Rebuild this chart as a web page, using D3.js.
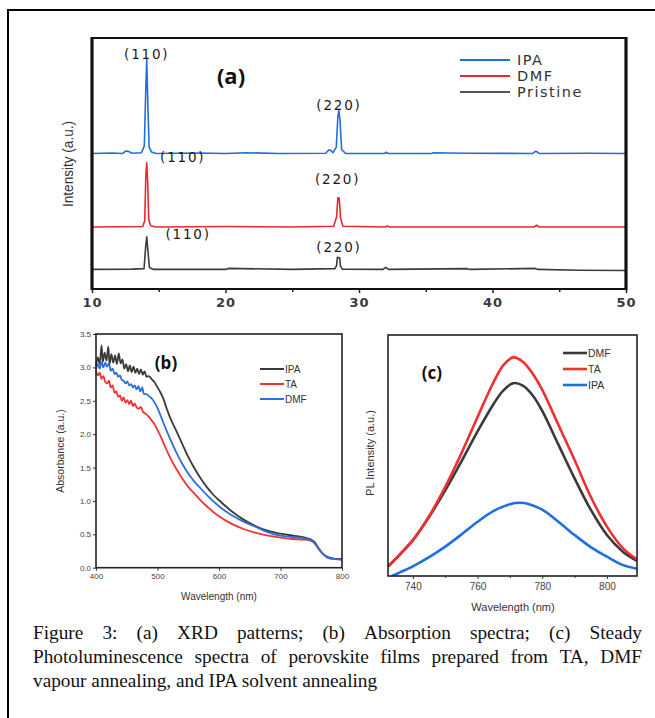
<!DOCTYPE html>
<html><head><meta charset="utf-8">
<script src="https://cdn.jsdelivr.net/npm/d3@7"></script>
<style>body{margin:0;background:#fff}svg{display:block}</style>
</head><body><svg id="c" width="655" height="718"></svg>
<script>
// ---------- DATA ----------
// (a) XRD patterns
const xrdSeries = ["IPA", "DMF", "Pristine"];
const xrdOffsets = [54.0, 24.7, 7.8];
const ipaTheta = [10, 11.5, 12.3, 12.55, 12.75, 13.0, 13.7, 13.92, 14.02, 14.1, 14.18, 14.28, 14.45, 14.8, 18, 20, 21.5, 24, 27.5, 27.75, 27.9, 28.05, 28.3, 28.42, 28.5, 28.58, 28.7, 29.0, 31.9, 32.05, 32.2, 35.4, 35.6, 38, 43.0, 43.25, 43.5, 47, 50];
const ipaInt   = [0, 0.2, 0, 1.0, 0.8, 0.1, 0.3, 3.0, 24, 37.4, 20, 2.5, 0.6, 0, 0.2, 0, 0.3, 0, 0.1, 1.5, 1.2, 0.3, 2.5, 15, 17.1, 13, 1.5, 0, 0, 0.5, 0, 0, 0.3, 0.1, 0, 0.9, 0, 0.1, 0];
const dmfTheta = [10, 12, 13.8, 13.95, 14.03, 14.1, 14.17, 14.25, 14.4, 14.8, 20, 25, 28.1, 28.32, 28.42, 28.52, 28.62, 28.8, 32, 32.1, 32.3, 40, 43.1, 43.3, 43.5, 50];
const dmfInt   = [0, 0.1, 0.2, 2.5, 20, 25.6, 18, 3, 0.5, 0, 0.2, 0, 0.3, 4, 11.7, 11.5, 3.5, 0.3, 0, 0.4, 0, 0, 0, 0.7, 0, 0];
const priTheta = [10, 13, 13.9, 14.02, 14.1, 14.18, 14.3, 14.6, 20, 20.2, 25, 28.2, 28.32, 28.38, 28.55, 28.62, 28.75, 31.8, 32.0, 32.2, 38.1, 38.3, 43.2, 43.4, 46.5, 50];
const priInt   = [0, 0.1, 0.3, 9, 13, 8, 0.8, 0, 0, 0.4, 0, 0.3, 1.5, 4.8, 4.6, 1.2, 0.1, 0, 0.8, 0, 0.3, 0, 0.4, 0, -0.3, -0.4];
const hklLabels = ["(110)", "(220)"];
const xrdTicks = [10, 20, 30, 40, 50];

// (b) Absorption
const absSeries = ["IPA", "TA", "DMF"];
const absIpaW = [400,403,406,409,411,414,417,420,422,425,428,431,434,437,440,443,446,449,452,455,458,461,464,467,470,473,476,479,482,486,490,495,500,505,510,515,520,530,540,550,560,570,580,590,600,620,640,660,680,700,720,740,750,755,760,765,770,775,780,790,800];
const absIpaA = [3.02,3.15,3.05,3.33,3.08,3.22,3.10,3.31,3.05,3.20,3.07,3.18,3.05,3.21,3.06,3.12,2.98,3.05,2.94,3.03,2.93,3.01,2.92,2.98,2.90,2.97,2.89,2.94,2.86,2.87,2.83,2.78,2.70,2.62,2.52,2.38,2.26,2.06,1.86,1.66,1.49,1.34,1.21,1.10,1.01,0.85,0.72,0.62,0.55,0.51,0.48,0.45,0.42,0.39,0.32,0.25,0.20,0.17,0.15,0.13,0.13];
const absTaW = [400,403,406,409,412,415,418,421,424,427,430,433,436,439,442,445,448,451,454,457,460,463,466,470,473,476,480,485,490,495,500,505,510,520,530,540,550,560,570,580,600,620,640,660,680,700,720,740,750,755,760,765,770,775,780,790,800];
const absTaA = [2.95,2.88,2.92,2.83,2.87,2.78,2.76,2.80,2.70,2.73,2.62,2.64,2.56,2.58,2.50,2.55,2.47,2.51,2.45,2.50,2.42,2.46,2.40,2.38,2.41,2.34,2.31,2.27,2.21,2.15,2.06,1.97,1.86,1.66,1.49,1.34,1.21,1.11,1.01,0.92,0.77,0.66,0.58,0.52,0.48,0.45,0.43,0.42,0.40,0.37,0.31,0.25,0.20,0.16,0.14,0.13,0.12];
const absDmfW = [400,403,406,409,412,415,418,421,424,427,430,433,436,439,442,445,448,451,454,457,460,463,466,469,472,475,478,482,486,490,495,500,505,510,520,530,540,550,560,570,580,600,620,640,660,680,700,720,740,750,755,760,765,770,775,780,790,800];
const absDmfA = [2.97,3.05,2.98,3.08,3.00,3.07,3.01,3.06,2.95,2.98,2.90,2.92,2.86,2.88,2.81,2.80,2.76,2.79,2.73,2.75,2.70,2.73,2.67,2.72,2.64,2.70,2.60,2.60,2.57,2.54,2.48,2.39,2.28,2.16,1.94,1.74,1.56,1.41,1.29,1.19,1.09,0.92,0.79,0.69,0.61,0.53,0.48,0.46,0.44,0.41,0.38,0.31,0.25,0.20,0.16,0.14,0.13,0.12];
const absXTicks = [400, 500, 600, 700, 800];
const absYTicks = [0.0, 0.5, 1.0, 1.5, 2.0, 2.5, 3.0, 3.5];

// (c) Photoluminescence
const plSeries = ["DMF", "TA", "IPA"];
const plW     = [732.3, 736, 740, 745, 750, 755, 760, 765, 768, 771, 774, 777, 780, 785, 790, 795, 800, 805, 809.3];
const plDmf   = [0.039, 0.090, 0.149, 0.245, 0.355, 0.475, 0.600, 0.715, 0.770, 0.800, 0.790, 0.750, 0.685, 0.545, 0.405, 0.275, 0.170, 0.100, 0.063];
const plTa    = [0.039, 0.090, 0.149, 0.248, 0.370, 0.509, 0.660, 0.806, 0.875, 0.907, 0.889, 0.840, 0.772, 0.627, 0.481, 0.329, 0.205, 0.115, 0.069];
const plIpaW  = [733.5, 736, 740, 745, 750, 755, 760, 765, 770, 773, 776, 780, 785, 790, 795, 800, 805, 809.3];
const plIpa   = [0.0, 0.015, 0.040, 0.078, 0.122, 0.172, 0.225, 0.270, 0.298, 0.304, 0.298, 0.275, 0.225, 0.170, 0.120, 0.080, 0.045, 0.030];
const plXTicks = [740, 760, 780, 800];

const captionLines = [
  "Figure 3: (a) XRD patterns; (b) Absorption spectra; (c) Steady",
  "Photoluminescence spectra of perovskite films prepared from TA, DMF",
  "vapour annealing, and IPA solvent annealing"
];

// ---------- DRAW ----------
const svg = d3.select("#c");
svg.append("rect").attr("width",655).attr("height",718).attr("fill","#fff");
svg.append("rect").attr("x",8).attr("y",10).attr("width",660).attr("height",720)
  .attr("fill","none").attr("stroke","#000").attr("stroke-width",2);

const BLUE="#1f6fd8", RED="#e8282d", DARK="#3c3c3c";

// ===== Panel (a) =====
const xA = d3.scaleLinear([10,50],[92,626]);
const yA = d3.scaleLinear([0,100],[289,38]);
const gA = svg.append("g");
const lineA = d3.line().x(d=>xA(d[0])).y(d=>yA(d[1]));
const xrdData = [
  {name:"Pristine", th:priTheta, I:priInt, off:xrdOffsets[2], color:DARK},
  {name:"DMF", th:dmfTheta, I:dmfInt, off:xrdOffsets[1], color:RED},
  {name:"IPA", th:ipaTheta, I:ipaInt, off:xrdOffsets[0], color:BLUE}
];
xrdData.forEach(s=>{
  const pts = s.th.map((t,i)=>[t, s.I[i]+s.off]);
  gA.append("path").attr("d",lineA(pts)).attr("fill","none")
    .attr("stroke",s.color).attr("stroke-width",1.6).attr("stroke-linejoin","round");
});
// frame
gA.append("rect").attr("x",92).attr("y",38).attr("width",534).attr("height",251)
  .attr("fill","none").attr("stroke","#111").attr("stroke-width",2);
gA.append("line").attr("x1",92).attr("x2",92).attr("y1",37).attr("y2",290).attr("stroke","#111").attr("stroke-width",3.2);
gA.append("line").attr("x1",626).attr("x2",626).attr("y1",37).attr("y2",290).attr("stroke","#111").attr("stroke-width",3.2);
const axA = gA.append("g").attr("transform","translate(0,289)")
  .call(d3.axisBottom(xA).tickValues(xrdTicks).tickSize(4).tickPadding(5));
axA.select(".domain").remove();
axA.selectAll("line").attr("stroke","#222").attr("stroke-width",1.5);
axA.selectAll("text").attr("font-family","DejaVu Sans").attr("font-size",13).attr("font-weight","bold")
  .attr("fill","#3a3a3a").attr("letter-spacing",1);
gA.append("g").attr("transform","translate(0,289)")
  .call(d3.axisBottom(xA).tickValues([15,25,35,45]).tickSize(3).tickFormat(""))
  .call(g=>{g.select(".domain").remove(); g.selectAll("line").attr("stroke","#222").attr("stroke-width",1.5);});
gA.append("text").attr("transform","translate(73,164) rotate(-90)").attr("text-anchor","middle")
  .attr("font-family","Liberation Sans").attr("font-size",15).attr("fill","#333")
  .attr("textLength",86).attr("lengthAdjust","spacingAndGlyphs")
  .text("Intensity (a.u.)");
gA.append("text").attr("x",231).attr("y",84).attr("text-anchor","middle")
  .attr("font-family","Open Sans").attr("font-weight","bold").attr("font-size",22).attr("fill","#111").text("(a)");
// hkl labels
const hklPos = [
  {lab:hklLabels[0], th:14.1, y:93.5},{lab:hklLabels[1], th:28.5, y:73},
  {lab:hklLabels[0], th:16.8, y:52.3},{lab:hklLabels[1], th:28.4, y:43.6},
  {lab:hklLabels[0], th:17.2, y:21.8},{lab:hklLabels[1], th:28.5, y:16.6}
];
hklPos.forEach(p=>{
  gA.append("text").attr("x",xA(p.th)).attr("y",yA(p.y)).attr("text-anchor","middle")
    .attr("dy","0.35em").attr("font-family","DejaVu Sans").attr("font-size",13.5)
    .attr("letter-spacing",1.8).attr("fill","#1a1a1a").text(p.lab);
});
// legend (a)
const legA = [{n:xrdSeries[0],c:BLUE},{n:xrdSeries[1],c:RED},{n:xrdSeries[2],c:"#555"}];
legA.forEach((d,i)=>{
  const y = 60 + i*16;
  gA.append("line").attr("x1",460).attr("x2",510).attr("y1",y).attr("y2",y).attr("stroke",d.c).attr("stroke-width",2);
  gA.append("text").attr("x",517).attr("y",y).attr("dy","0.36em").attr("font-family","DejaVu Sans")
    .attr("font-size",14.5).attr("letter-spacing",1.5).attr("fill","#333").text(d.n);
});

// ===== Panel (b) =====
const xB = d3.scaleLinear([400,800],[96,342]);
const yB = d3.scaleLinear([0,3.5],[567.7,334]);
const gB = svg.append("g");
const lineB = d3.line().x(d=>xB(d[0])).y(d=>yB(d[1])).curve(d3.curveMonotoneX);
const absData = [
  {w:absIpaW, a:absIpaA, c:"#3a3a3a"},
  {w:absTaW, a:absTaA, c:"#ee3535"},
  {w:absDmfW, a:absDmfA, c:"#2a6fdc"}
];
absData.forEach(s=>{
  gB.append("path").attr("d",lineB(s.w.map((w,i)=>[w,s.a[i]]))).attr("fill","none")
    .attr("stroke",s.c).attr("stroke-width",1.8);
});
gB.append("rect").attr("x",96).attr("y",334).attr("width",246).attr("height",233.7)
  .attr("fill","none").attr("stroke","#222").attr("stroke-width",1.6);
const bx = gB.append("g").attr("transform","translate(0,567.7)")
  .call(d3.axisBottom(xB).tickValues(absXTicks).tickSize(3).tickPadding(3).tickFormat(d3.format("d")));
bx.select(".domain").remove();
const by = gB.append("g").attr("transform","translate(96,0)")
  .call(d3.axisLeft(yB).tickValues(absYTicks).tickSize(3).tickPadding(2).tickFormat(d3.format(".1f")));
by.select(".domain").remove();
[bx,by].forEach(a=>{a.selectAll("line").attr("stroke","#333");
  a.selectAll("text").attr("font-family","Liberation Sans").attr("font-size",8).attr("fill","#444");});
gB.append("text").attr("x",219).attr("y",600).attr("text-anchor","middle")
  .attr("font-family","Liberation Sans").attr("font-size",10).attr("fill","#333").text("Wavelength (nm)");
gB.append("text").attr("transform","translate(64,451) rotate(-90)").attr("text-anchor","middle")
  .attr("font-family","Liberation Sans").attr("font-size",10.5).attr("fill","#333").text("Absorbance (a.u.)");
gB.append("text").attr("x",166).attr("y",369).attr("text-anchor","middle")
  .attr("font-family","Open Sans").attr("font-weight","bold").attr("font-size",17).attr("fill","#111").text("(b)");
const legB = [{n:absSeries[0],c:"#3a3a3a"},{n:absSeries[1],c:"#ee3535"},{n:absSeries[2],c:"#2a6fdc"}];
legB.forEach((d,i)=>{
  const y = 369 + i*15;
  gB.append("line").attr("x1",260).attr("x2",284).attr("y1",y).attr("y2",y).attr("stroke",d.c).attr("stroke-width",2);
  gB.append("text").attr("x",285).attr("y",y).attr("dy","0.35em").attr("font-family","Liberation Sans")
    .attr("font-size",10).attr("fill","#333").text(d.n);
});

// ===== Panel (c) =====
const xC = d3.scaleLinear([732.3,809.3],[388,637]);
const yC = d3.scaleLinear([0,1],[576,335]);
const gC = svg.append("g");
const clip = svg.append("clipPath").attr("id","clc");
clip.append("rect").attr("x",388).attr("y",335).attr("width",249).attr("height",241);
const lineC = d3.line().x(d=>xC(d[0])).y(d=>yC(d[1])).curve(d3.curveCatmullRom);
const plData = [
  {w:plW, v:plDmf, c:"#3a3a3a"},
  {w:plW, v:plTa, c:"#ee3030"},
  {w:plIpaW, v:plIpa, c:"#1f6fde"}
];
plData.forEach(s=>{
  gC.append("path").attr("d",lineC(s.w.map((w,i)=>[w,s.v[i]]))).attr("fill","none")
    .attr("clip-path","url(#clc)").attr("stroke",s.c).attr("stroke-width",2.6);
});
gC.append("rect").attr("x",388).attr("y",335).attr("width",249).attr("height",241)
  .attr("fill","none").attr("stroke","#222").attr("stroke-width",1.6);
const cx = gC.append("g").attr("transform","translate(0,576)")
  .call(d3.axisBottom(xC).tickValues(plXTicks).tickSize(3).tickPadding(4));
cx.select(".domain").remove();
cx.selectAll("line").attr("stroke","#333");
cx.selectAll("text").attr("font-family","Liberation Sans").attr("font-size",10).attr("fill","#444");
gC.append("g").attr("transform","translate(0,576)")
  .call(d3.axisBottom(xC).tickValues([750,770,790]).tickSize(2).tickFormat(""))
  .call(g=>{g.select(".domain").remove(); g.selectAll("line").attr("stroke","#333");});
gC.append("text").attr("x",513).attr("y",611).attr("text-anchor","middle")
  .attr("font-family","Liberation Sans").attr("font-size",11).attr("fill","#333").text("Wavelength (nm)");
gC.append("text").attr("transform","translate(374,453) rotate(-90)").attr("text-anchor","middle")
  .attr("font-family","Liberation Sans").attr("font-size",11).attr("fill","#333").text("PL Intensity (a.u.)");
gC.append("text").attr("x",432).attr("y",379).attr("text-anchor","middle")
  .attr("font-family","Open Sans").attr("font-weight","bold").attr("font-size",17).attr("fill","#111").text("(c)");
const legC = [{n:plSeries[0],c:"#3a3a3a"},{n:plSeries[1],c:"#ee3030"},{n:plSeries[2],c:"#1f6fde"}];
legC.forEach((d,i)=>{
  const y = 353 + i*16;
  gC.append("line").attr("x1",563).attr("x2",587).attr("y1",y).attr("y2",y).attr("stroke",d.c).attr("stroke-width",2.6);
  gC.append("text").attr("x",588).attr("y",y).attr("dy","0.35em").attr("font-family","Liberation Sans")
    .attr("font-size",10.5).attr("fill","#333").text(d.n);
});

// ===== Caption =====
const capG = svg.append("g").attr("font-family","Liberation Serif").attr("font-size",19.3).attr("fill","#111");
const capX0 = 33, capX1 = 642, capBase = [639, 663, 687];
captionLines.forEach((ln,li)=>{
  const words = ln.split(" ");
  if (li < 2) {
    const ws = words.map(w=>{const t=capG.append("text").text(w); const l=t.node().getComputedTextLength(); t.remove(); return l;});
    const total = d3.sum(ws);
    const gap = (capX1-capX0-total)/(words.length-1);
    let x = capX0;
    words.forEach((w,i)=>{ capG.append("text").attr("x",x).attr("y",capBase[li]).text(w); x += ws[i]+gap; });
  } else {
    capG.append("text").attr("x",capX0).attr("y",capBase[li]).text(ln);
  }
});
</script></body></html>
